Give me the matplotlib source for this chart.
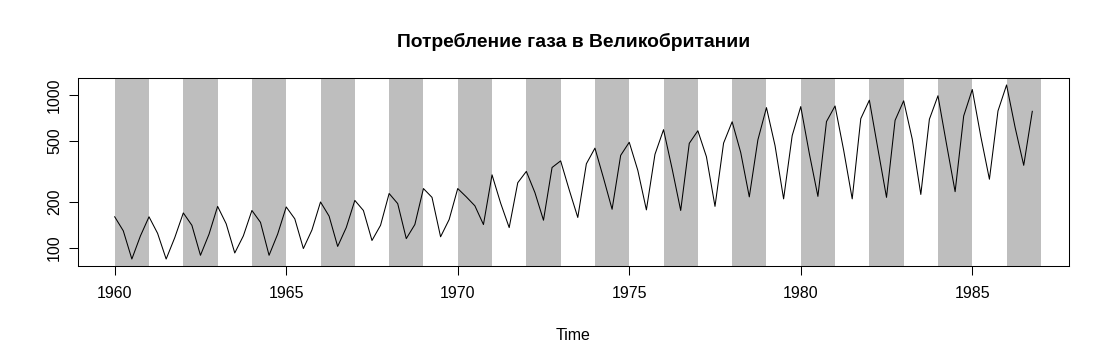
import matplotlib
matplotlib.use("Agg")
from matplotlib import pyplot as plt
import numpy as np

plt.rcParams['font.family'] = ['Liberation Sans', 'DejaVu Sans']

# UK quarterly gas consumption, 1960 Q1 .. 1986 Q4
start_year = 1960
gas = [160.1, 129.7, 84.8, 120.1,
       160.1, 124.9, 84.8, 116.9,
       169.7, 140.9, 89.7, 123.3,
       187.3, 144.1, 92.9, 120.1,
       176.1, 147.3, 89.7, 123.3,
       185.7, 155.3, 99.3, 131.3,
       200.1, 161.7, 102.5, 136.1,
       204.9, 176.1, 112.1, 140.9,
       227.3, 195.3, 115.3, 142.5,
       244.9, 214.5, 118.5, 153.7,
       244.9, 216.1, 188.9, 142.5,
       301.0, 196.9, 136.1, 267.3,
       317.0, 230.5, 152.1, 336.2,
       371.4, 240.1, 158.5, 355.4,
       449.9, 286.6, 179.3, 403.4,
       491.5, 321.8, 177.7, 409.8,
       593.9, 329.8, 176.1, 483.5,
       584.3, 395.4, 187.3, 485.1,
       669.2, 421.0, 216.1, 509.1,
       827.7, 467.5, 209.7, 542.7,
       840.5, 414.6, 217.7, 670.8,
       848.5, 437.0, 209.7, 701.2,
       925.3, 443.4, 214.5, 683.6,
       917.3, 515.5, 224.1, 694.8,
       989.4, 477.1, 233.7, 730.0,
       1087.0, 534.7, 281.8, 787.6,
       1163.9, 613.1, 347.4, 782.8]
band_years = [1960, 1962, 1964, 1966, 1968, 1970, 1972, 1974, 1976, 1978,
              1980, 1982, 1984, 1986]
x_ticks = [1960, 1965, 1970, 1975, 1980, 1985]
y_ticks = [100, 200, 500, 1000]

t = start_year + np.arange(len(gas)) / 4.0

W, H = 1110, 364
fig = plt.figure(figsize=(W / 100, H / 100), dpi=100)
ax = fig.add_axes([78 / W, 1 - 266 / H, (1069 - 78) / W, (266 - 78) / H])

# shaded even years
for y in band_years:
    ax.axvspan(y, y + 1, color='#BEBEBE', lw=0, zorder=0)

ax.plot(t, gas, color='black', lw=0.75, zorder=2)

ax.set_yscale('log')
lo, hi = np.log10(min(gas)), np.log10(max(gas))
pad = 0.04 * (hi - lo)
ax.set_ylim(10 ** (lo - pad), 10 ** (hi + pad))
xpad = 0.04 * (t[-1] - t[0])
ax.set_xlim(t[0] - xpad, t[-1] + xpad)

ax.set_xticks(x_ticks)
ax.set_xticklabels([str(v) for v in x_ticks])
ax.set_yticks(y_ticks)
ax.set_yticklabels([str(v) for v in y_ticks], rotation=90, va='center')
ax.yaxis.set_minor_locator(matplotlib.ticker.NullLocator())
ax.tick_params(length=6.5, width=0.75, labelsize=11.5, direction='out')
ax.tick_params(axis='x', pad=8)
ax.tick_params(axis='y', pad=5)
for s in ax.spines.values():
    s.set_linewidth(0.75)

fig.text((78 + 1069) / 2 / W, 1 - 42 / H, 'Потребление газа в Великобритании',
         ha='center', va='center', fontsize=13.9, fontweight='bold')
fig.text((78 + 1069) / 2 / W, 1 - 335 / H, 'Time',
         ha='center', va='center', fontsize=11.5)

fig.savefig('out.png', dpi=100)
